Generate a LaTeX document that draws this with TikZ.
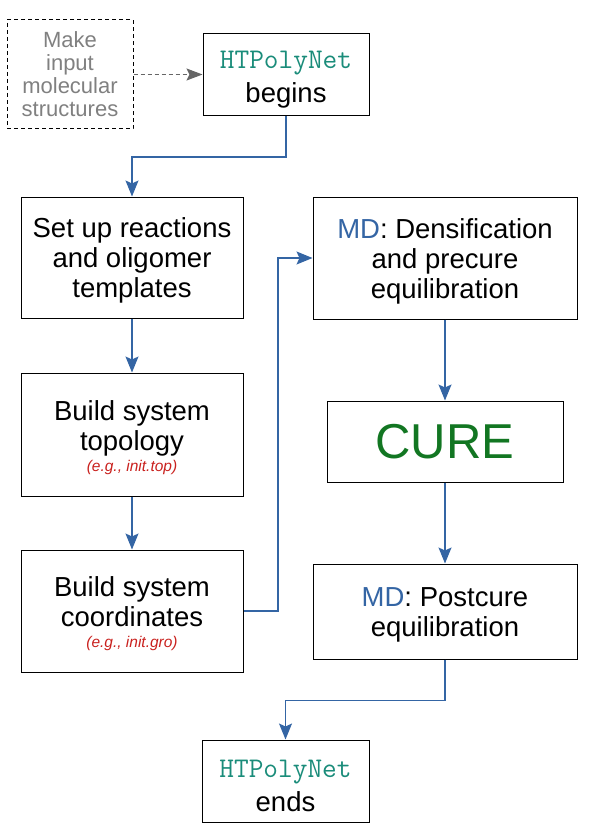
\documentclass[tikz,border=0pt]{standalone}
\usepackage{fontspec}
\setmainfont{Liberation Sans}
\usetikzlibrary{arrows.meta,calc}
\definecolor{lblue}{HTML}{3465A4}
\definecolor{lteal}{HTML}{1A8C7A}
\definecolor{lgreen}{HTML}{127622}
\definecolor{lred}{HTML}{C9211E}
\definecolor{lgray}{HTML}{808080}
\definecolor{dgray}{HTML}{666666}
\newcommand{\htp}{{\fontsize{28.5}{30}\selectfont\ttfamily\color{lteal}HTPolyNet}}
\newcommand{\mdlab}{{\color{lblue}MD}}
\newcommand{\egnote}[1]{{\fontsize{15.5}{16}\selectfont\itshape\color{lred}#1}}
\begin{document}
\begin{tikzpicture}[x=1pt,y=-1pt,
  box/.style={draw=black,line width=1pt,inner sep=0pt},
  btext/.style={label={[inner sep=0pt,align=center,yshift=-3pt,
    font=\fontsize{27.5}{30}\selectfont]center:{#1}}},
  htext/.style={label={[inner sep=0pt,align=center,yshift=-5pt,
    font=\fontsize{27.5}{30}\selectfont]center:{#1}}},
  flow/.style={draw=lblue,line width=1.2pt,-{Stealth[length=16pt,width=13pt,inset=3pt]}},
  dflow/.style={draw=dgray,line width=1.1pt,dashed,dash pattern=on 4pt off 3pt,
    -{Stealth[length=16pt,width=12pt,inset=3pt]}}]
\useasboundingbox (0,0) rectangle (591,829);
\node[box,dashed,dash pattern=on 4pt off 3pt,minimum width=126pt,minimum height=109pt,
  align=center,text=lgray,font=\fontsize{22}{23}\selectfont] (mk) at (70,74.5) {Make\\input\\molecular\\structures};
\node[box,minimum width=166pt,minimum height=82pt,htext={\htp\\[4pt]begins}] (begin) at (286,74.5) {};
\node[box,minimum width=222pt,minimum height=121pt,btext={Set up reactions\\and oligomer\\templates}] (setup) at (132,257.5) {};
\node[box,minimum width=264pt,minimum height=122pt,btext={\mdlab: Densification\\and precure\\equilibration}] (dens) at (445,258) {};
\node[box,minimum width=222pt,minimum height=123pt,btext={Build system\\topology\\[-9pt]\egnote{(e.g., init.top)}}] (topo) at (132,434.5) {};
\node[box,minimum width=236pt,minimum height=81pt,text=lgreen,font=\fontsize{49}{52}\selectfont] (cure) at (445,441.5) {CURE};
\node[box,minimum width=222pt,minimum height=122pt,btext={Build system\\coordinates\\[-9pt]\egnote{(e.g., init.gro)}}] (coord) at (132,611) {};
\node[box,minimum width=264pt,minimum height=95pt,btext={\mdlab: Postcure\\equilibration}] (post) at (445,611.5) {};
\node[box,minimum width=167pt,minimum height=82pt,htext={\htp\\[4pt]ends}] (end) at (285.5,781) {};
\coordinate (jx) at (278,611);
\draw[dflow] (mk.east) -- (begin.west);
\draw[flow] (begin.south) -- ++(0,41) -| (setup.north);
\draw[flow] (setup.south) -- (topo.north);
\draw[flow] (topo.south) -- (coord.north);
\draw[flow] (coord.east) -- (jx) |- (dens.west);
\draw[flow] (dens.south) -- (cure.north);
\draw[flow] (cure.south) -- (post.north);
\draw[flow] (post.south) -- ++(0,41) -| (end.north);
\end{tikzpicture}
\end{document}
